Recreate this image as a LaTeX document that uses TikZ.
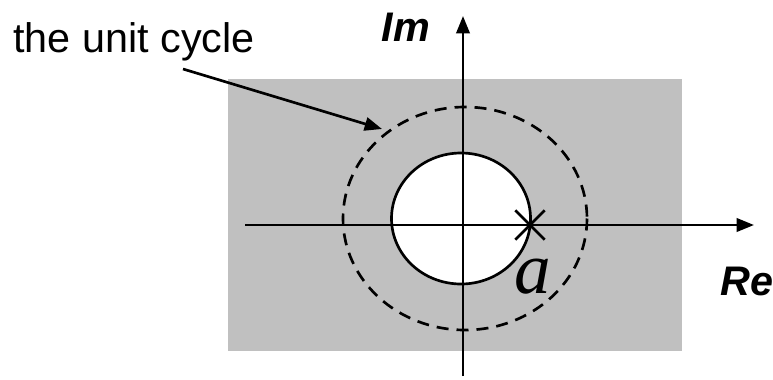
\documentclass[tikz,border=0pt]{standalone}
\usepackage{fontspec}
\setmainfont{Liberation Sans}
\newfontfamily\lserif{Liberation Serif}
\usetikzlibrary{arrows.meta,shapes.misc}
\definecolor{plane}{HTML}{C0C0C0}

\begin{document}
\begin{tikzpicture}[
  x=0.75pt, y=-0.75pt,
  axis/.style={line width=2pt, -{Triangle[length=13pt, width=10pt]}},
  arr/.style={line width=2pt, -{Triangle[length=13pt, width=10pt]}},
  lbl/.style={font=\fontsize{31}{37}\selectfont, inner sep=0pt},
  axlbl/.style={font=\fontsize{31}{37}\selectfont\bfseries\itshape, inner sep=0pt},
]
\useasboundingbox (0,0) rectangle (773,379);

% ---- shaded region and the two circles ----
\fill[plane] (227.5,79) rectangle (682,351);
\draw[line width=2pt, fill=white] (461,218.5) ellipse [x radius=69.5, y radius=65.5];
\draw[line width=2pt, dash pattern=on 9pt off 6pt] (465,218.5)
  ellipse [x radius=122, y radius=111.5];

% ---- axes ----
\coordinate (xl) at (245,225);
\coordinate (xr) at (754,225);
\coordinate (yb) at (463,376);
\coordinate (yt) at (463,16);
\draw[axis] (xl) -- (xr);
\draw[axis] (yb) -- (yt);
\node[axlbl] (im) at (406,27) {Im};
\node[axlbl] (re) at (747,281) {Re};

% ---- pole ----
\node[cross out, draw, line width=2pt, minimum size=20pt, inner sep=0pt] (pole) at (530,225) {};
\node[font=\fontsize{55}{62}\selectfont\lserif\itshape, inner sep=0pt] (a) at (533,277) {a};

% ---- label of the unit circle ----
\node[lbl] (ucycle) at (134,42) {the unit cycle};
\coordinate (ustart) at (183,69);
\coordinate (utip) at (382,129);
\draw[arr] (ustart) -- (utip);

\end{tikzpicture}
\end{document}
